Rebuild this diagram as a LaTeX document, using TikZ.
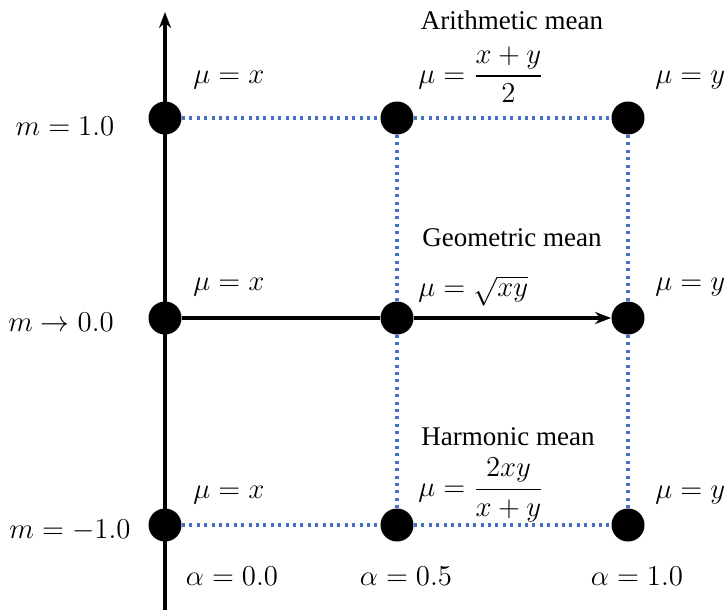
\documentclass[tikz,border=0pt]{standalone}
\usepackage{amsmath}
\usepackage{fontspec}
\setmainfont{Liberation Serif}
\usetikzlibrary{arrows.meta}
\definecolor{gblue}{RGB}{68,114,196}
\begin{document}
\begin{tikzpicture}[x=0.5pt,y=-0.5pt,
  font=\fontsize{13.5}{16}\selectfont,
  dot/.style={circle,fill=black,minimum size=16.5pt,inner sep=0pt},
  gridline/.style={draw=gblue,line width=1.8pt,dash pattern=on 1.5pt off 2.2pt},
  axisline/.style={line width=1.8pt,-{Stealth[length=8pt,width=6pt]}},
  lab/.style={inner sep=0pt}]
\useasboundingbox (0,0) rectangle (727,610);
% coordinates of axis
\coordinate (axbot) at (165,610);
\coordinate (axtop) at (165,12);
% dots
\node[dot] (d00) at (165,118) {};
\node[dot] (d10) at (397,118) {};
\node[dot] (d20) at (628,118) {};
\node[dot] (d01) at (165,318) {};
\node[dot] (d11) at (397,318) {};
\node[dot] (d21) at (628,318) {};
\node[dot] (d02) at (165,525) {};
\node[dot] (d12) at (397,525) {};
\node[dot] (d22) at (628,525) {};
% dotted grid
\draw[gridline] (d00) -- (d10);
\draw[gridline] (d10) -- (d20);
\draw[gridline] (d02) -- (d12);
\draw[gridline] (d12) -- (d22);
\draw[gridline] (d10) -- (d11);
\draw[gridline] (d11) -- (d12);
\draw[gridline] (d20) -- (d21);
\draw[gridline] (d21) -- (d22);
% axes
\draw[axisline] (axbot) -- (axtop);
\draw[line width=1.8pt] (d01) -- (d11);
\draw[axisline] (d11) -- (d21);
% left labels
\node[lab] (mtop) at (65,126) {$m = 1.0$};
\node[lab] (mmid) at (61,322) {$m \rightarrow 0.0$};
\node[lab] (mbot) at (70,530) {$m = -1.0$};
% mu = x
\node[lab,anchor=west] (ux0) at (193,80) {$\mu = x$};
\node[lab,anchor=west] (ux1) at (193,287) {$\mu = x$};
\node[lab,anchor=west] (ux2) at (193,495) {$\mu = x$};
% mu = y
\node[lab,anchor=west] (uy0) at (655,80) {$\mu = y$};
\node[lab,anchor=west] (uy1) at (655,287) {$\mu = y$};
\node[lab,anchor=west] (uy2) at (655,495) {$\mu = y$};
% middle column
\node[lab] (tarith) at (512,20) {Arithmetic mean};
\node[lab,anchor=west] (uarith) at (418,75) {$\mu = \dfrac{x+y}{2}$};
\node[lab] (tgeo) at (512,238) {Geometric mean};
\node[lab,anchor=west] (ugeo) at (418,291) {$\mu = \sqrt{xy}$};
\node[lab] (tharm) at (508,437) {Harmonic mean};
\node[lab,anchor=west] (uharm) at (418,490) {$\mu = \dfrac{2xy}{x+y}$};
% alpha labels
\node[lab] (a0) at (232,576) {$\alpha = 0.0$};
\node[lab] (a5) at (406,576) {$\alpha = 0.5$};
\node[lab] (a1) at (637,576) {$\alpha = 1.0$};
\end{tikzpicture}
\end{document}
